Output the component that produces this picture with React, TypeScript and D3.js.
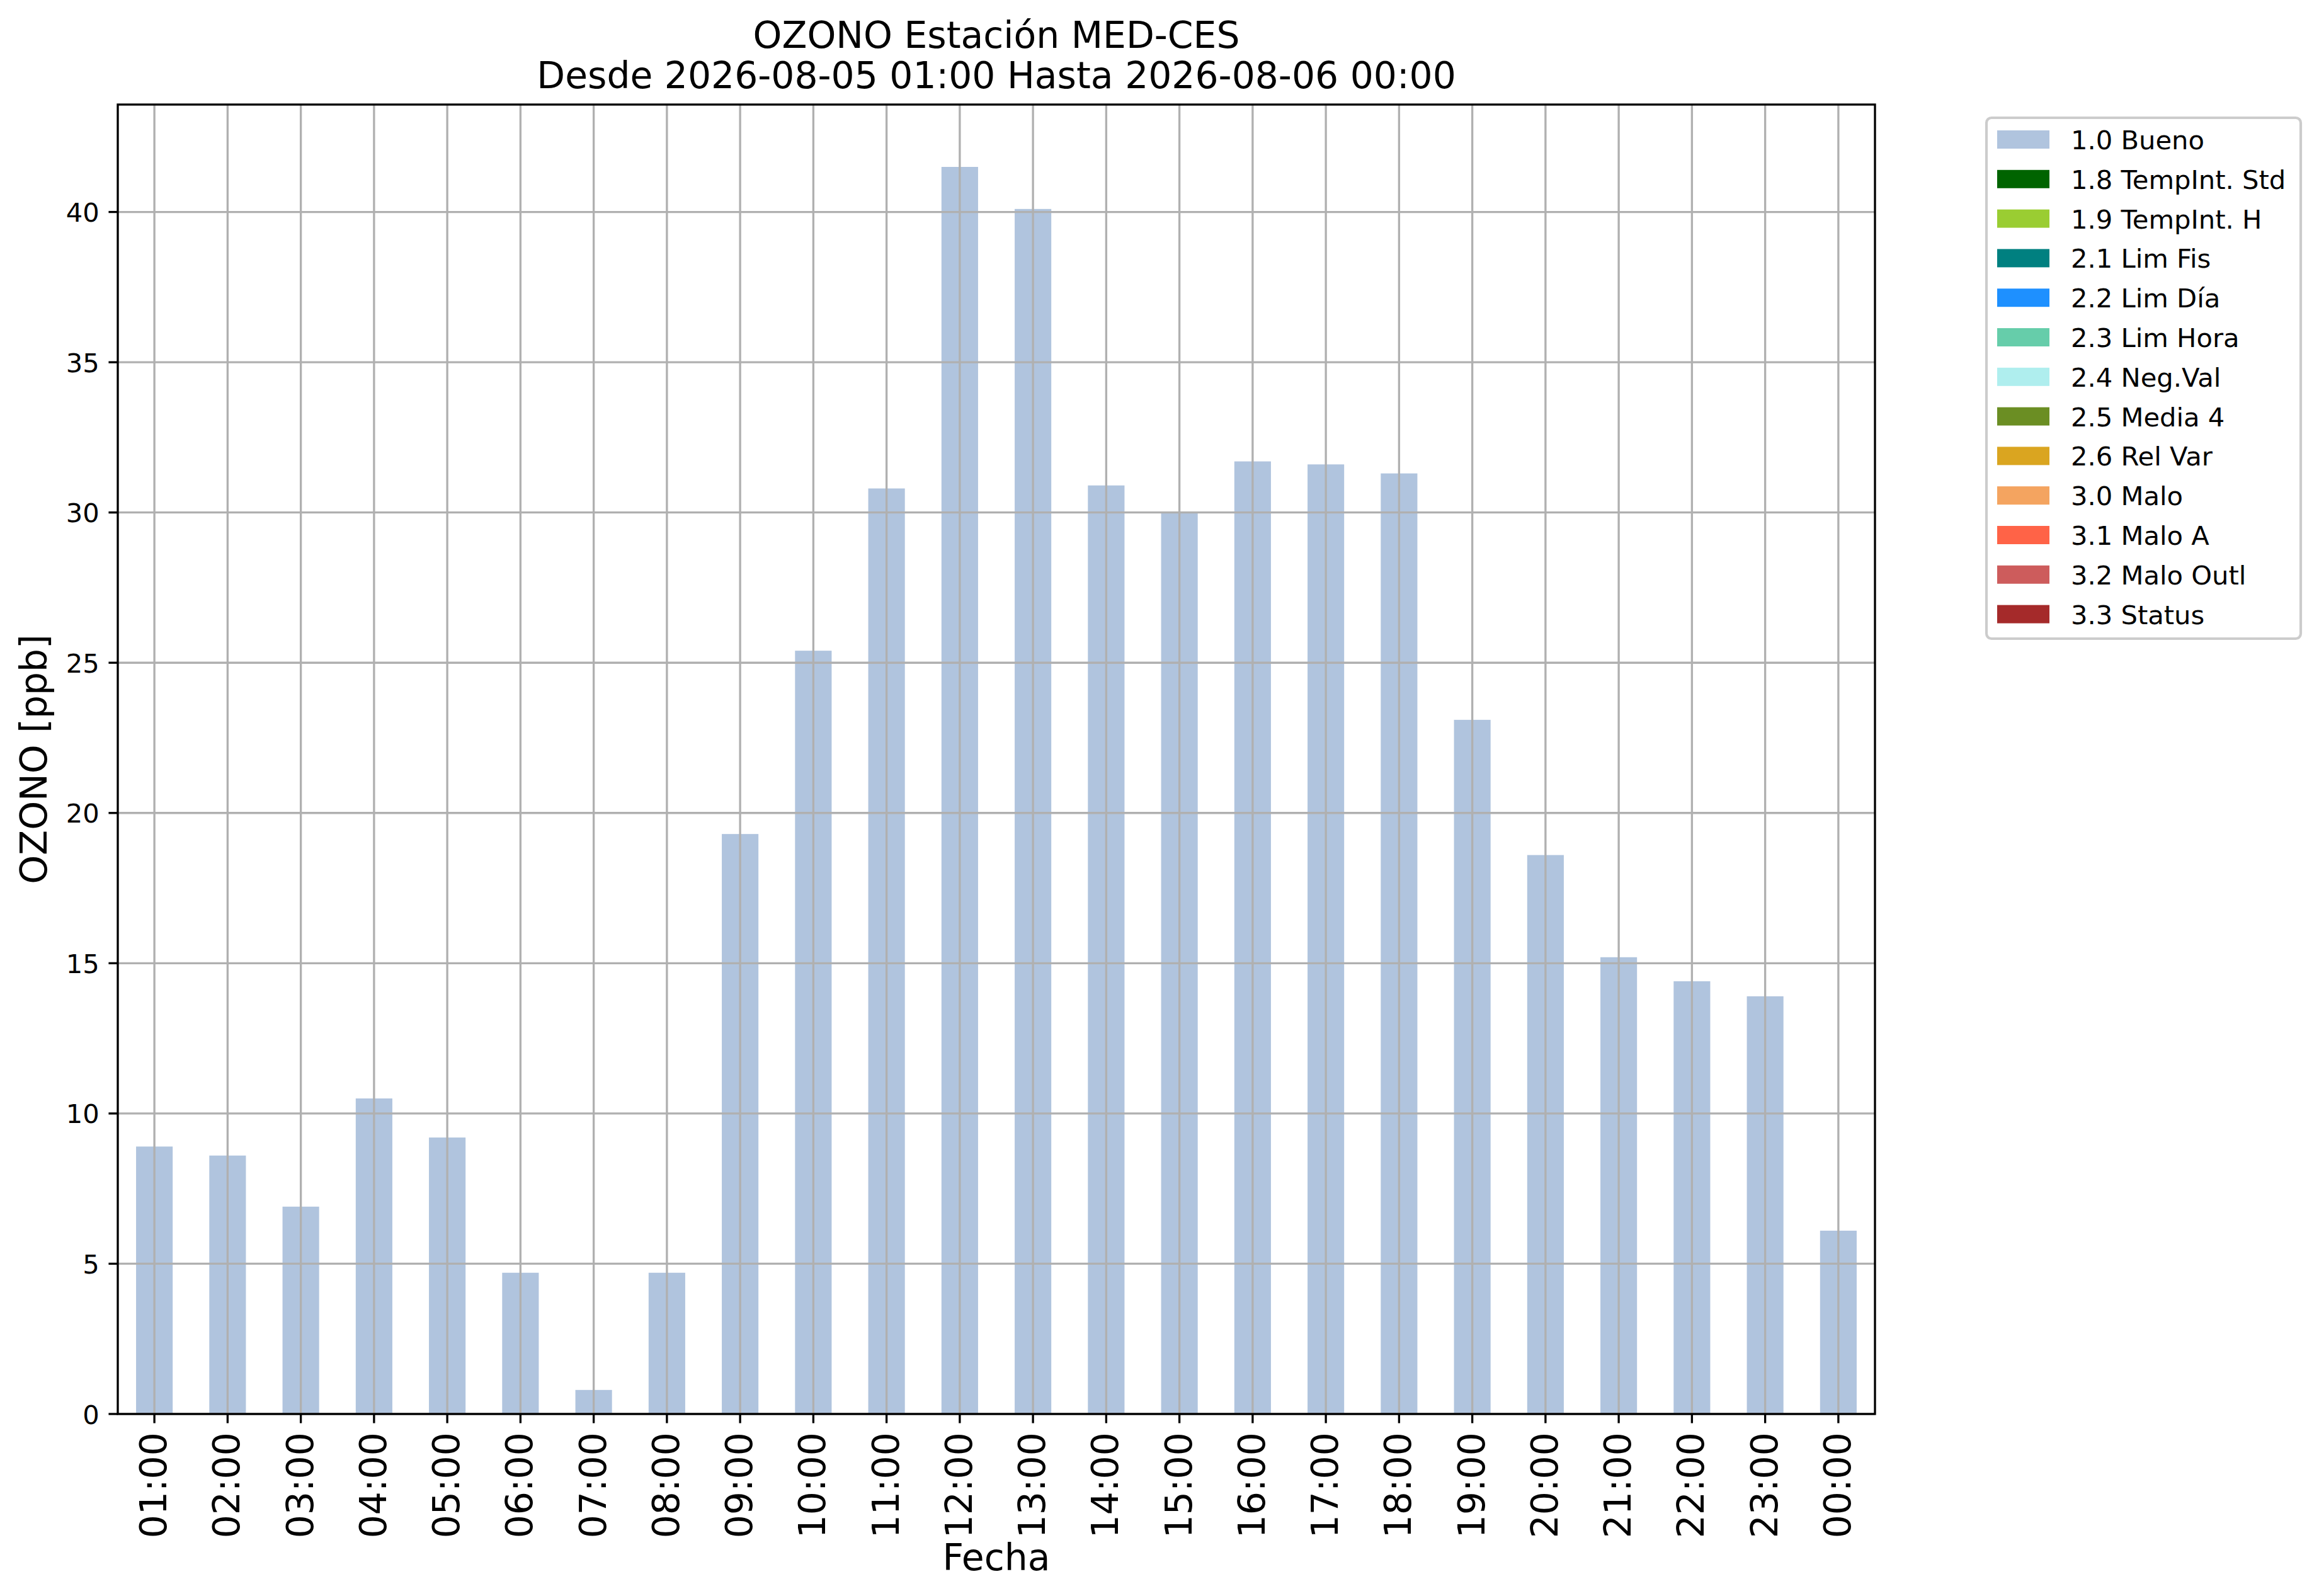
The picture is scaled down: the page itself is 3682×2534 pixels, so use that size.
import React from "react";
import * as d3 from "d3";

const hours = [
  "01:00", "02:00", "03:00", "04:00", "05:00", "06:00", "07:00", "08:00",
  "09:00", "10:00", "11:00", "12:00", "13:00", "14:00", "15:00", "16:00",
  "17:00", "18:00", "19:00", "20:00", "21:00", "22:00", "23:00", "00:00",
];

const ozone = [
  8.9, 8.6, 6.9, 10.5, 9.2, 4.7, 0.8, 4.7, 19.3, 25.4, 30.8, 41.5,
  40.1, 30.9, 30.0, 31.7, 31.6, 31.3, 23.1, 18.6, 15.2, 14.4, 13.9, 6.1,
];

const flagLabels = [
  "1.0 Bueno", "1.8 TempInt. Std", "1.9 TempInt. H", "2.1 Lim Fis",
  "2.2 Lim Día", "2.3 Lim Hora", "2.4 Neg.Val", "2.5 Media 4",
  "2.6 Rel Var", "3.0 Malo", "3.1 Malo A", "3.2 Malo Outl", "3.3 Status",
];

const flagColors = [
  "#b0c4de", "#006400", "#9acd32", "#008080", "#1e90ff", "#66cdaa",
  "#afeeee", "#6b8e23", "#daa520", "#f4a460", "#ff6347", "#cd5c5c", "#a52a2a",
];

const titleLines = [
  "OZONO Estación MED-CES",
  "Desde 2026-08-05 01:00 Hasta 2026-08-06 00:00",
];

const W = 3682;
const H = 2534;
const margin = { left: 187, right: 2977, top: 166, bottom: 2245 };
const pt = 300 / 72;
const font = "DejaVu Sans, sans-serif";

export default function App() {
  const x = d3
    .scaleBand<string>()
    .domain(hours)
    .range([margin.left, margin.right])
    .paddingInner(0.5)
    .paddingOuter(0.25);

  const y = d3
    .scaleLinear()
    .domain([0, (d3.max(ozone) || 1) * 1.05])
    .range([margin.bottom, margin.top]);

  const yTicks = y.ticks(10);
  const lw = 0.8 * pt;
  const tickLen = 3.5 * pt;
  const grid = "#b0b0b0";
  const cx = (h: string) => (x(h) || 0) + x.bandwidth() / 2;

  const legX = 3154;
  const legY = 187;
  const rowH = 62.8;

  return (
    <svg
      width={W}
      height={H}
      style={{ position: "absolute", left: 0, top: 0, background: "#fff" }}
      fontFamily={font}
    >
      <rect x={0} y={0} width={W} height={H} fill="#fff" />

      {/* bars */}
      {ozone.map((v, i) => (
        <rect
          key={hours[i]}
          x={x(hours[i])}
          y={y(v)}
          width={x.bandwidth()}
          height={y(0) - y(v)}
          fill="#b0c4de"
        />
      ))}

      {/* grid on top of bars */}
      {hours.map((h) => (
        <line
          key={"gx" + h}
          x1={cx(h)}
          x2={cx(h)}
          y1={margin.top}
          y2={margin.bottom}
          stroke={grid}
          strokeWidth={lw}
        />
      ))}
      {yTicks.map((t) => (
        <line
          key={"gy" + t}
          x1={margin.left}
          x2={margin.right}
          y1={y(t)}
          y2={y(t)}
          stroke={grid}
          strokeWidth={lw}
        />
      ))}

      {/* frame */}
      <rect
        x={margin.left}
        y={margin.top}
        width={margin.right - margin.left}
        height={margin.bottom - margin.top}
        fill="none"
        stroke="#000"
        strokeWidth={lw}
      />

      {/* y axis */}
      {yTicks.map((t) => (
        <g key={"ty" + t}>
          <line
            x1={margin.left - tickLen}
            x2={margin.left}
            y1={y(t)}
            y2={y(t)}
            stroke="#000"
            strokeWidth={lw}
          />
          <text
            x={margin.left - tickLen - 3.5 * pt}
            y={y(t) + 15.5}
            fontSize={10 * pt}
            textAnchor="end"
          >
            {t}
          </text>
        </g>
      ))}

      {/* x axis */}
      {hours.map((h) => (
        <g key={"tx" + h}>
          <line
            x1={cx(h)}
            x2={cx(h)}
            y1={margin.bottom}
            y2={margin.bottom + tickLen}
            stroke="#000"
            strokeWidth={lw}
          />
          <text
            transform={`translate(${cx(h) + 19},${margin.bottom + tickLen + 3.5 * pt}) rotate(-90)`}
            fontSize={14 * pt}
            textAnchor="end"
          >
            {h}
          </text>
        </g>
      ))}

      <text
        x={(margin.left + margin.right) / 2}
        y={2493}
        fontSize={14 * pt}
        textAnchor="middle"
      >
        Fecha
      </text>
      <text
        transform={`translate(74,${(margin.top + margin.bottom) / 2}) rotate(-90)`}
        fontSize={14 * pt}
        textAnchor="middle"
      >
        OZONO [ppb]
      </text>

      {/* title */}
      {titleLines.map((s, i) => (
        <text
          key={"title" + i}
          x={(margin.left + margin.right) / 2}
          y={76 + i * 64}
          fontSize={14 * pt}
          textAnchor="middle"
        >
          {s}
        </text>
      ))}

      {/* legend */}
      <rect
        x={legX}
        y={legY}
        width={499}
        height={827}
        rx={8}
        fill="#fff"
        fillOpacity={0.8}
        stroke="#cccccc"
        strokeWidth={1 * pt}
      />
      {flagLabels.map((lab, i) => (
        <g key={lab}>
          <rect
            x={legX + 17}
            y={207 + i * rowH}
            width={83}
            height={29}
            fill={flagColors[i]}
          />
          <text
            x={3288}
            y={237 + i * rowH}
            fontSize={10 * pt}
          >
            {lab}
          </text>
        </g>
      ))}
    </svg>
  );
}
